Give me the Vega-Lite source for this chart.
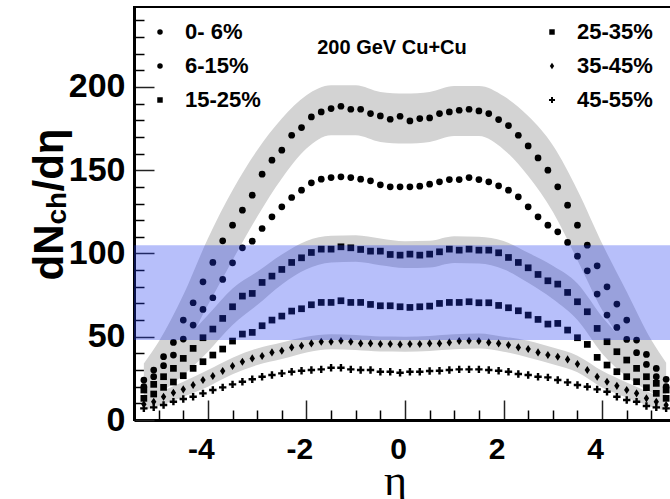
{
  "$schema": "https://vega.github.io/schema/vega-lite/v6.json",
  "width": 542,
  "height": 413,
  "autosize": "none",
  "padding": {"left": 134, "top": 7, "right": -6, "bottom": 79},
  "background": "white",
  "config": {
    "view": {"stroke": "black", "strokeWidth": 2},
    "font": "Liberation Sans"
  },
  "title": {
    "text": "200 GeV Cu+Cu",
    "orient": "top",
    "anchor": "middle",
    "offset": -67,
    "baseline": "alphabetic",
    "dx": -13,
    "fontSize": 20,
    "font": "Liberation Sans",
    "fontWeight": "bold",
    "color": "black"
  },
  "datasets": {
    "points": [
      {"eta": -5.3, "c0_6": 24, "c6_15": 20, "c15_25": 18, "c25_35": 13, "c35_45": 9.5, "c45_55": 7},
      {"eta": -5.1, "c0_6": 30, "c6_15": 26, "c15_25": 21.4, "c25_35": 15.6, "c35_45": 11, "c45_55": 7.6},
      {"eta": -4.9, "c0_6": 38, "c6_15": 32.6, "c15_25": 26, "c25_35": 19.6, "c35_45": 14, "c45_55": 9},
      {"eta": -4.7, "c0_6": 46.6, "c6_15": 39, "c15_25": 31, "c25_35": 22.8, "c35_45": 16.4, "c45_55": 11},
      {"eta": -4.5, "c0_6": 60, "c6_15": 48.6, "c15_25": 37, "c25_35": 26.6, "c35_45": 18.4, "c45_55": 12.6},
      {"eta": -4.3, "c0_6": 70.4, "c6_15": 57, "c15_25": 43, "c25_35": 31, "c35_45": 21, "c45_55": 14},
      {"eta": -4.1, "c0_6": 83, "c6_15": 66.4, "c15_25": 49.4, "c25_35": 35, "c35_45": 24, "c45_55": 16},
      {"eta": -3.9, "c0_6": 94.6, "c6_15": 73.4, "c15_25": 54.6, "c25_35": 39, "c35_45": 26.4, "c45_55": 18},
      {"eta": -3.7, "c0_6": 107.6, "c6_15": 84.4, "c15_25": 61, "c25_35": 42.6, "c35_45": 29.4, "c45_55": 19.6},
      {"eta": -3.5, "c0_6": 117, "c6_15": 94.4, "c15_25": 68, "c25_35": 47.4, "c35_45": 32.4, "c45_55": 21.4},
      {"eta": -3.3, "c0_6": 126, "c6_15": 103.4, "c15_25": 74.4, "c25_35": 51.6, "c35_45": 35, "c45_55": 23},
      {"eta": -3.1, "c0_6": 135, "c6_15": 107.4, "c15_25": 76, "c25_35": 52.6, "c35_45": 37, "c45_55": 24.5},
      {"eta": -2.9, "c0_6": 147.6, "c6_15": 115, "c15_25": 82.6, "c25_35": 56.6, "c35_45": 38.4, "c45_55": 26},
      {"eta": -2.7, "c0_6": 156, "c6_15": 122, "c15_25": 86.4, "c25_35": 60, "c35_45": 40.6, "c45_55": 27},
      {"eta": -2.5, "c0_6": 162, "c6_15": 128, "c15_25": 90.4, "c25_35": 62.4, "c35_45": 41.6, "c45_55": 28},
      {"eta": -2.3, "c0_6": 171, "c6_15": 133.6, "c15_25": 94.6, "c25_35": 65.4, "c35_45": 43.6, "c45_55": 29},
      {"eta": -2.1, "c0_6": 175.6, "c6_15": 138, "c15_25": 97.4, "c25_35": 66.8, "c35_45": 44.6, "c45_55": 29.6},
      {"eta": -1.9, "c0_6": 182, "c6_15": 142.4, "c15_25": 100.6, "c25_35": 69.2, "c35_45": 46, "c45_55": 30},
      {"eta": -1.7, "c0_6": 185, "c6_15": 144.6, "c15_25": 102.6, "c25_35": 70.6, "c35_45": 47, "c45_55": 30.4},
      {"eta": -1.5, "c0_6": 187, "c6_15": 145.6, "c15_25": 102.6, "c25_35": 70.6, "c35_45": 47, "c45_55": 31.4},
      {"eta": -1.3, "c0_6": 188.4, "c6_15": 146, "c15_25": 104, "c25_35": 71.6, "c35_45": 47.6, "c45_55": 31.4},
      {"eta": -1.1, "c0_6": 186.6, "c6_15": 145.6, "c15_25": 103.4, "c25_35": 70.6, "c35_45": 47, "c45_55": 30.4},
      {"eta": -0.9, "c0_6": 186.6, "c6_15": 144.6, "c15_25": 102.4, "c25_35": 70.6, "c35_45": 46, "c45_55": 30},
      {"eta": -0.7, "c0_6": 184, "c6_15": 143.6, "c15_25": 101.4, "c25_35": 69.4, "c35_45": 46, "c45_55": 30},
      {"eta": -0.5, "c0_6": 182.6, "c6_15": 141.2, "c15_25": 101.4, "c25_35": 68.6, "c35_45": 45.6, "c45_55": 29},
      {"eta": -0.3, "c0_6": 180.6, "c6_15": 140, "c15_25": 99.4, "c25_35": 68.6, "c35_45": 45.6, "c45_55": 29},
      {"eta": -0.1, "c0_6": 182.4, "c6_15": 140, "c15_25": 99, "c25_35": 68, "c35_45": 45.4, "c45_55": 28.4},
      {"eta": 0.1, "c0_6": 179.6, "c6_15": 140, "c15_25": 99.6, "c25_35": 67.6, "c35_45": 45.6, "c45_55": 29},
      {"eta": 0.3, "c0_6": 181, "c6_15": 140.4, "c15_25": 99, "c25_35": 68, "c35_45": 45.6, "c45_55": 29},
      {"eta": 0.5, "c0_6": 181.4, "c6_15": 141.6, "c15_25": 99.6, "c25_35": 68.4, "c35_45": 46, "c45_55": 29.4},
      {"eta": 0.7, "c0_6": 184, "c6_15": 143, "c15_25": 101, "c25_35": 70, "c35_45": 46, "c45_55": 29.6},
      {"eta": 0.9, "c0_6": 185, "c6_15": 144.4, "c15_25": 102.6, "c25_35": 70.6, "c35_45": 46.6, "c45_55": 30},
      {"eta": 1.1, "c0_6": 186, "c6_15": 144.4, "c15_25": 102, "c25_35": 70.6, "c35_45": 47.4, "c45_55": 30.4},
      {"eta": 1.3, "c0_6": 186.6, "c6_15": 145.6, "c15_25": 102.6, "c25_35": 71, "c35_45": 47.6, "c45_55": 30.4},
      {"eta": 1.5, "c0_6": 185.6, "c6_15": 144.4, "c15_25": 102, "c25_35": 70.4, "c35_45": 47.4, "c45_55": 30.4},
      {"eta": 1.7, "c0_6": 184, "c6_15": 143, "c15_25": 102, "c25_35": 70.4, "c35_45": 46.6, "c45_55": 30},
      {"eta": 1.9, "c0_6": 180.4, "c6_15": 140.6, "c15_25": 100.4, "c25_35": 68.8, "c35_45": 46, "c45_55": 29.6},
      {"eta": 2.1, "c0_6": 176.8, "c6_15": 138, "c15_25": 97.6, "c25_35": 67.4, "c35_45": 45, "c45_55": 29},
      {"eta": 2.3, "c0_6": 171, "c6_15": 134, "c15_25": 94.6, "c25_35": 65.6, "c35_45": 43.6, "c45_55": 27.6},
      {"eta": 2.5, "c0_6": 164.6, "c6_15": 128, "c15_25": 91.4, "c25_35": 63, "c35_45": 42.6, "c45_55": 27},
      {"eta": 2.7, "c0_6": 157.4, "c6_15": 122, "c15_25": 87.4, "c25_35": 60.4, "c35_45": 40.6, "c45_55": 26},
      {"eta": 2.9, "c0_6": 150, "c6_15": 117, "c15_25": 83.6, "c25_35": 57.6, "c35_45": 39, "c45_55": 25.6},
      {"eta": 3.1, "c0_6": 140, "c6_15": 113, "c15_25": 81.6, "c25_35": 58, "c35_45": 38, "c45_55": 24},
      {"eta": 3.3, "c0_6": 129, "c6_15": 106.6, "c15_25": 76.6, "c25_35": 54, "c35_45": 36.4, "c45_55": 22.6},
      {"eta": 3.5, "c0_6": 117, "c6_15": 98.4, "c15_25": 71, "c25_35": 49.4, "c35_45": 33.6, "c45_55": 21},
      {"eta": 3.7, "c0_6": 105, "c6_15": 89.6, "c15_25": 65, "c25_35": 45.4, "c35_45": 30, "c45_55": 20},
      {"eta": 3.9, "c0_6": 92.6, "c6_15": 75.6, "c15_25": 55, "c25_35": 37.6, "c35_45": 26, "c45_55": 18.4},
      {"eta": 4.1, "c0_6": 80, "c6_15": 63, "c15_25": 47, "c25_35": 33, "c35_45": 23, "c45_55": 17},
      {"eta": 4.3, "c0_6": 69.6, "c6_15": 55.6, "c15_25": 41, "c25_35": 29, "c35_45": 20.5, "c45_55": 14},
      {"eta": 4.5, "c0_6": 60, "c6_15": 48.4, "c15_25": 36, "c25_35": 26, "c35_45": 18, "c45_55": 12},
      {"eta": 4.7, "c0_6": 48, "c6_15": 40.4, "c15_25": 31, "c25_35": 23, "c35_45": 16, "c45_55": 11},
      {"eta": 4.9, "c0_6": 39.4, "c6_15": 33.4, "c15_25": 26, "c25_35": 19.4, "c35_45": 13, "c45_55": 8.4},
      {"eta": 5.1, "c0_6": 31, "c6_15": 26, "c15_25": 22, "c25_35": 16, "c35_45": 11, "c45_55": 7.6},
      {"eta": 5.3, "c0_6": 24.4, "c6_15": 20, "c15_25": 18, "c25_35": 13, "c35_45": 9, "c45_55": 7}
    ],
    "bands": [
      {"eta": -5.3, "lo1": 14, "hi1": 34, "lo3": 12, "hi3": 24, "lo5": 6, "hi5": 13},
      {"eta": -5.0, "lo1": 21, "hi1": 47, "lo3": 16, "hi3": 31, "lo5": 8.5, "hi5": 16.5},
      {"eta": -4.5, "lo1": 41, "hi1": 75, "lo3": 27, "hi3": 47, "lo5": 13.9, "hi5": 22.9},
      {"eta": -4.0, "lo1": 69, "hi1": 109, "lo3": 41, "hi3": 63, "lo5": 20, "hi5": 30},
      {"eta": -3.5, "lo1": 96, "hi1": 138, "lo3": 57, "hi3": 79, "lo5": 27.4, "hi5": 37.4},
      {"eta": -3.0, "lo1": 122, "hi1": 162, "lo3": 69, "hi3": 89, "lo5": 33, "hi5": 43},
      {"eta": -2.5, "lo1": 145, "hi1": 181, "lo3": 81.4, "hi3": 99.4, "lo5": 36.6, "hi5": 46.6},
      {"eta": -2.0, "lo1": 163, "hi1": 195, "lo3": 90.5, "hi3": 107.5, "lo5": 40.6, "hi5": 50},
      {"eta": -1.5, "lo1": 171, "hi1": 201, "lo3": 94.6, "hi3": 110.6, "lo5": 42.5, "hi5": 51.5},
      {"eta": -1.0, "lo1": 171, "hi1": 201, "lo3": 95, "hi3": 111, "lo5": 42, "hi5": 51},
      {"eta": -0.5, "lo1": 167, "hi1": 197, "lo3": 93, "hi3": 109, "lo5": 41.1, "hi5": 50.1},
      {"eta": 0.0, "lo1": 166, "hi1": 196, "lo3": 91.3, "hi3": 107.3, "lo5": 41, "hi5": 50},
      {"eta": 0.5, "lo1": 167, "hi1": 197, "lo3": 91.6, "hi3": 107.6, "lo5": 41.5, "hi5": 50.5},
      {"eta": 1.0, "lo1": 170.5, "hi1": 200.5, "lo3": 94.3, "hi3": 110.3, "lo5": 42.5, "hi5": 51.5},
      {"eta": 1.5, "lo1": 170.5, "hi1": 200.5, "lo3": 94, "hi3": 110, "lo5": 42.9, "hi5": 51.9},
      {"eta": 2.0, "lo1": 162.5, "hi1": 194.5, "lo3": 90.5, "hi3": 107.5, "lo5": 41, "hi5": 50},
      {"eta": 2.5, "lo1": 146.5, "hi1": 182.5, "lo3": 82.4, "hi3": 100.4, "lo5": 37.6, "hi5": 47.6},
      {"eta": 3.0, "lo1": 125, "hi1": 165, "lo3": 72.6, "hi3": 92.6, "lo5": 33.5, "hi5": 43.5},
      {"eta": 3.5, "lo1": 96, "hi1": 138, "lo3": 60, "hi3": 82, "lo5": 28.6, "hi5": 38.6},
      {"eta": 4.0, "lo1": 66, "hi1": 106, "lo3": 40, "hi3": 62, "lo5": 19.5, "hi5": 29.5},
      {"eta": 4.5, "lo1": 43, "hi1": 77, "lo3": 26, "hi3": 46, "lo5": 13.5, "hi5": 22.5},
      {"eta": 5.0, "lo1": 22, "hi1": 48, "lo3": 16.5, "hi3": 31.5, "lo5": 8, "hi5": 16},
      {"eta": 5.3, "lo1": 14.4, "hi1": 34.4, "lo3": 12, "hi3": 24, "lo5": 5.5, "hi5": 12.5}
    ],
    "window": [{"lo": 48, "hi": 105}]
  },
  "layer": [
    {
      "data": {"name": "bands"},
      "mark": {"type": "area", "color": "#d3d3d3", "interpolate": "monotone"},
      "encoding": {
        "x": {
          "field": "eta", "type": "quantitative",
          "scale": {"domain": [-5.5, 5.5], "nice": false, "zero": false},
          "axis": {
            "orient": "bottom", "values": [-4, -2, 0, 2, 4],
            "tickSize": -20, "tickWidth": 1.5, "tickColor": "#222",
            "domainColor": "black", "domainWidth": 3, "grid": false,
            "labelExpr": "'' + datum.value",
            "labelFont": "Liberation Sans", "labelFontWeight": "bold", "labelFontSize": 30,
            "labelColor": "black", "labelPadding": 58, "labelBaseline": "alphabetic",
            "labelOffset": -7, "labelFlush": false, "labelOverlap": false,
            "title": "η", "titleFont": "Liberation Serif", "titleFontWeight": "normal",
            "titleFontSize": 44, "titleColor": "black", "titleX": 261, "titleY": 74,
            "titleBaseline": "alphabetic", "titleAnchor": null
          }
        },
        "y": {
          "field": "lo1", "type": "quantitative",
          "scale": {"domain": [0, 248], "nice": false, "zero": false},
          "axis": {
            "orient": "left", "values": [0, 50, 100, 150, 200],
            "tickSize": -20, "tickWidth": 1.5, "tickColor": "#222",
            "domainColor": "black", "domainWidth": 3, "grid": false,
            "labelExpr": "'' + datum.value",
            "labelFont": "Liberation Sans", "labelFontWeight": "bold", "labelFontSize": 34,
            "labelColor": "black", "labelPadding": 29, "labelBaseline": "middle",
            "labelFlush": false, "labelOverlap": false,
            "title": "dN", "titleFont": "Liberation Sans", "titleFontWeight": "bold",
            "titleFontSize": 42, "titleColor": "black", "titleAngle": 270,
            "titleAlign": "left", "titleBaseline": "alphabetic",
            "titleX": -72, "titleY": 273
          }
        },
        "y2": {"field": "hi1"}
      }
    },
    {
      "data": {"name": "bands"},
      "mark": {"type": "area", "color": "#d3d3d3", "interpolate": "monotone"},
      "encoding": {
        "x": {"field": "eta", "type": "quantitative", "axis": null},
        "y": {"field": "lo3", "type": "quantitative", "axis": null},
        "y2": {"field": "hi3"}
      }
    },
    {
      "data": {"name": "bands"},
      "mark": {"type": "area", "color": "#d3d3d3", "interpolate": "monotone"},
      "encoding": {
        "x": {"field": "eta", "type": "quantitative", "axis": null},
        "y": {"field": "lo5", "type": "quantitative", "axis": null},
        "y2": {"field": "hi5"}
      }
    },
    {
      "data": {"name": "points"},
      "transform": [
        {"fold": ["c0_6", "c6_15", "c15_25", "c25_35", "c35_45", "c45_55"], "as": ["cls", "dndeta"]}
      ],
      "mark": {"type": "point", "filled": true, "color": "black", "opacity": 1, "size": 45},
      "encoding": {
        "x": {
          "field": "eta", "type": "quantitative",
          "axis": {
            "orient": "bottom",
            "values": [-5, -4.5, -3.5, -3, -2.5, -1.5, -1, -0.5, 0.5, 1, 1.5, 2.5, 3, 3.5, 4.5, 5],
            "tickSize": -10, "tickWidth": 1.5, "tickColor": "black",
            "domain": false, "labels": false, "grid": false, "title": null
          }
        },
        "y": {
          "field": "dndeta", "type": "quantitative",
          "axis": {
            "orient": "left",
            "values": [10, 20, 30, 40, 60, 70, 80, 90, 110, 120, 130, 140, 160, 170, 180, 190, 210, 220, 230, 240],
            "tickSize": -10, "tickWidth": 1.5, "tickColor": "black",
            "domain": false, "labels": false, "grid": false,
            "title": "ch", "titleFont": "Liberation Sans", "titleFontWeight": "bold",
            "titleFontSize": 28, "titleColor": "black", "titleAngle": 270,
            "titleAlign": "left", "titleBaseline": "alphabetic",
            "titleX": -69, "titleY": 217
          }
        },
        "shape": {
          "field": "cls", "type": "nominal",
          "scale": {
            "domain": ["c0_6", "c6_15", "c15_25", "c25_35", "c35_45", "c45_55"],
            "range": [
              "circle", "circle", "square", "square",
              "M0,-1.2L0.8,0L0,1.2L-0.8,0Z",
              "M-0.36,-1.1H0.36V-0.36H1.1V0.36H0.36V1.1H-0.36V0.36H-1.1V-0.36H-0.36Z"
            ]
          },
          "legend": {
            "orient": "none", "legendX": 15, "legendY": 14,
            "columns": 2, "columnPadding": 280, "rowPadding": 12,
            "title": null, "symbolSize": 30, "symbolFillColor": "black",
            "symbolStrokeColor": "black", "symbolStrokeWidth": 0,
            "labelFont": "Liberation Sans", "labelFontWeight": "bold", "labelFontSize": 22,
            "labelColor": "black", "labelOffset": 14, "labelLimit": 0,
            "labelExpr": "datum.label == 'c0_6' ? '0- 6%' : datum.label == 'c6_15' ? '6-15%' : datum.label == 'c15_25' ? '15-25%' : datum.label == 'c25_35' ? '25-35%' : datum.label == 'c35_45' ? '35-45%' : '45-55%'"
          }
        }
      }
    },
    {
      "data": {"name": "window"},
      "mark": {"type": "rect", "color": "#2038f0", "opacity": 0.32},
      "encoding": {
        "y": {
          "field": "lo", "type": "quantitative",
          "axis": {
            "orient": "left", "ticks": false, "labels": false, "domain": false, "grid": false,
            "title": "/dη", "titleFont": "Liberation Sans", "titleFontWeight": "bold",
            "titleFontSize": 42, "titleColor": "black", "titleAngle": 270,
            "titleAlign": "left", "titleBaseline": "alphabetic",
            "titleX": -72, "titleY": 184
          }
        },
        "y2": {"field": "hi"}
      }
    }
  ],
  "resolve": {"axis": {"x": "independent", "y": "independent"}}
}
